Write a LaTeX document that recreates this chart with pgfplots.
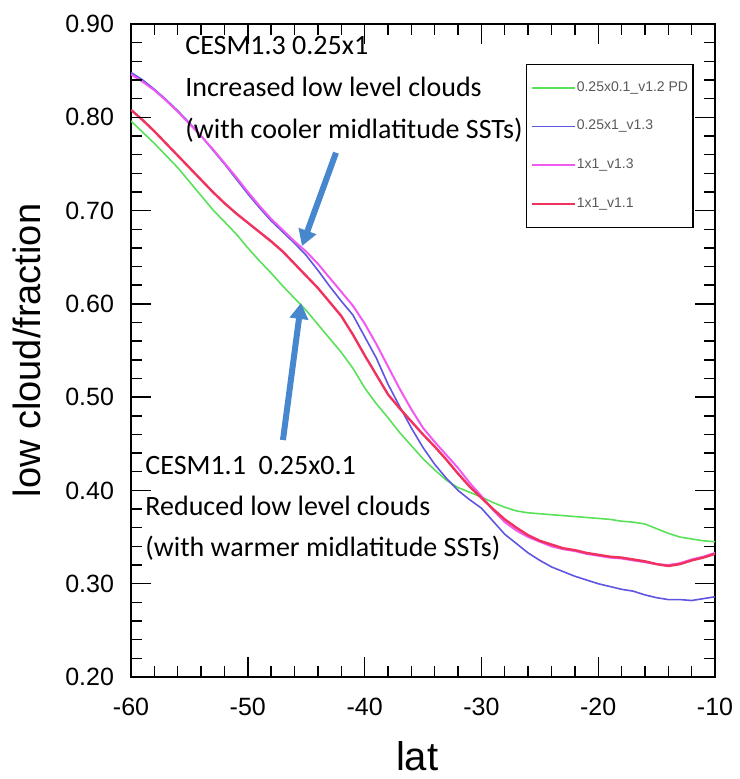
\documentclass[border=0pt]{standalone}
\usepackage{fontspec}
\setmainfont{Liberation Sans}
\newfontfamily\calibri{Carlito}
\usepackage{pgfplots}
\pgfplotsset{compat=1.18}
\usetikzlibrary{arrows.meta}
\definecolor{cgreen}{RGB}{90,225,90}
\definecolor{cblue}{RGB}{95,85,225}
\definecolor{cmag}{RGB}{240,90,240}
\definecolor{cred}{RGB}{240,50,95}
\definecolor{arrowblue}{RGB}{70,135,205}
\pgfplotsset{
 base/.style={scale only axis, width=292pt, height=326.5pt,
  xmin=-60, xmax=-10, ymin=0.2, ymax=0.9,
  xtick={-60,-50,-40,-30,-20,-10},
  ytick={0.2,0.3,0.4,0.5,0.6,0.7,0.8,0.9},
  minor x tick num=4, minor y tick num=4,
  tick align=inside, tick pos=both,
  major tick length=10pt, minor tick length=5.5pt,
  axis line style={line width=1pt},
  tick style={line width=0.7pt, black},
  /pgf/number format/assume math mode=true},
 tl/.style={ticklabel style={font=\fontsize{12.5}{15}\selectfont}},
 nf/.style={yticklabel style={xshift=-5pt, /pgf/number format/fixed, /pgf/number format/fixed zerofill, /pgf/number format/precision=2},
  xticklabel style={yshift=-7pt}},
 lab/.style={xlabel={lat}, ylabel={low cloud/fraction},
  xlabel style={font=\fontsize{20}{24}\selectfont, at={(axis description cs:0.49,0)}, anchor=center, yshift=-39.5pt},
  ylabel style={font=\fontsize{19}{23}\selectfont, at={(axis description cs:-0.178,0.5)}, anchor=center}},
 leg/.style={legend style={at={(rel axis cs:0.676,0.939)}, anchor=north west,
    font=\fontsize{7}{8}\selectfont, text=black!65, draw=black, line width=0.6pt,
    inner xsep=2pt, inner ysep=7.5pt, row sep=11pt, cells={anchor=west},
    nodes={inner xsep=0.5pt, inner ysep=1pt}},
  legend image code/.code={\draw[##1] (0pt,0pt) -- (21.5pt,0pt);}},
}
\begin{document}
\begin{tikzpicture}
\begin{axis}[base, tl, nf, lab, leg]
\addplot[cgreen, line width=0.8pt] coordinates {
(-60,0.796) (-59,0.784) (-58,0.772) (-57,0.759) (-56,0.746) (-55,0.731) (-54,0.716) (-53,0.701) (-52,0.688) (-51,0.675)
(-50,0.660) (-49,0.646) (-48,0.633) (-47,0.619) (-46,0.606) (-45,0.593) (-44,0.578) (-43,0.563) (-42,0.548) (-41,0.531)
(-40,0.510) (-39,0.493) (-38,0.478) (-37,0.462) (-36,0.448) (-35,0.434) (-34,0.422) (-33,0.411) (-32,0.403) (-31,0.398)
(-30,0.393) (-29,0.387) (-28,0.382) (-27,0.378) (-26,0.376) (-25,0.375) (-24,0.374) (-23,0.373) (-22,0.372) (-21,0.371)
(-20,0.370) (-19,0.369) (-18,0.367) (-17,0.366) (-16,0.364) (-15,0.359) (-14,0.354) (-13,0.350) (-12,0.348) (-11,0.346) (-10,0.345)};
\addlegendentry{0.25x0.1\_v1.2 PD}
\addplot[cblue, line width=0.8pt] coordinates {
(-60,0.848) (-59,0.840) (-58,0.830) (-57,0.819) (-56,0.807) (-55,0.794) (-54,0.780) (-53,0.765) (-52,0.750) (-51,0.734)
(-50,0.718) (-49,0.703) (-48,0.689) (-47,0.677) (-46,0.665) (-45,0.652) (-44,0.636) (-43,0.619) (-42,0.603) (-41,0.588)
(-40,0.565) (-39,0.542) (-38,0.514) (-37,0.490) (-36,0.467) (-35,0.446) (-34,0.428) (-33,0.413) (-32,0.400) (-31,0.390)
(-30,0.381) (-29,0.367) (-28,0.353) (-27,0.343) (-26,0.333) (-25,0.325) (-24,0.318) (-23,0.313) (-22,0.308) (-21,0.304)
(-20,0.300) (-19,0.297) (-18,0.294) (-17,0.292) (-16,0.288) (-15,0.285) (-14,0.283) (-13,0.283) (-12,0.282) (-11,0.284) (-10,0.286)};
\addlegendentry{0.25x1\_v1.3}
\addplot[cmag, line width=1pt] coordinates {
(-60,0.846) (-59,0.838) (-58,0.829) (-57,0.818) (-56,0.806) (-55,0.793) (-54,0.780) (-53,0.766) (-52,0.751) (-51,0.736)
(-50,0.720) (-49,0.705) (-48,0.691) (-47,0.679) (-46,0.667) (-45,0.656) (-44,0.643) (-43,0.628) (-42,0.613) (-41,0.598)
(-40,0.579) (-39,0.557) (-38,0.533) (-37,0.509) (-36,0.487) (-35,0.467) (-34,0.452) (-33,0.438) (-32,0.424) (-31,0.408)
(-30,0.394) (-29,0.379) (-28,0.366) (-27,0.357) (-26,0.350) (-25,0.345) (-24,0.340) (-23,0.337) (-22,0.335) (-21,0.332)
(-20,0.330) (-19,0.328) (-18,0.327) (-17,0.325) (-16,0.323) (-15,0.321) (-14,0.320) (-13,0.322) (-12,0.326) (-11,0.329) (-10,0.333)};
\addlegendentry{1x1\_v1.3}
\addplot[cred, line width=1.2pt] coordinates {
(-60,0.808) (-59,0.797) (-58,0.785) (-57,0.772) (-56,0.759) (-55,0.746) (-54,0.733) (-53,0.720) (-52,0.708) (-51,0.697)
(-50,0.687) (-49,0.677) (-48,0.667) (-47,0.656) (-46,0.643) (-45,0.630) (-44,0.617) (-43,0.602) (-42,0.587) (-41,0.567)
(-40,0.545) (-39,0.524) (-38,0.503) (-37,0.488) (-36,0.474) (-35,0.460) (-34,0.447) (-33,0.433) (-32,0.418) (-31,0.404)
(-30,0.392) (-29,0.380) (-28,0.369) (-27,0.360) (-26,0.352) (-25,0.346) (-24,0.342) (-23,0.338) (-22,0.336) (-21,0.333)
(-20,0.331) (-19,0.329) (-18,0.328) (-17,0.326) (-16,0.324) (-15,0.321) (-14,0.319) (-13,0.321) (-12,0.325) (-11,0.328) (-10,0.332)};
\addlegendentry{1x1\_v1.1}
\node[anchor=north west, align=left, inner sep=0pt, font=\calibri\fontsize{14}{21}\selectfont] at (axis cs:-55.38,0.887) {CESM1.3 0.25x1\\Increased low level clouds\\(with cooler midlatitude SSTs)};
\node[anchor=north west, align=left, inner sep=0pt, font=\calibri\fontsize{14}{20.5}\selectfont] at (axis cs:-58.8,0.437) {CESM1.1\ \ 0.25x0.1\\Reduced low level clouds\\(with warmer midlatitude SSTs)};
\draw[arrowblue, line width=3pt, -{Triangle[length=8pt,width=9pt]}] (axis cs:-42.45,0.762) -- (axis cs:-45.36,0.662);
\draw[arrowblue, line width=3pt, -{Triangle[length=8pt,width=9pt]}] (axis cs:-46.99,0.454) -- (axis cs:-45.44,0.601);
\coordinate (bl) at (rel axis cs:0,0);
\coordinate (tr) at (rel axis cs:1,1);
\coordinate (tl) at (rel axis cs:0,1);
\coordinate (br) at (rel axis cs:1,0);
\end{axis}
\foreach \i in {0,...,25} {
  \draw[black, line width=0.7pt] ([xshift=\i*11.68pt]bl) -- ++(0pt,5.5pt);
  \draw[black, line width=0.7pt] ([xshift=\i*11.68pt]tl) -- ++(0pt,-5.5pt);
}
\foreach \i in {0,5,...,25} {
  \draw[black, line width=0.7pt] ([xshift=\i*11.68pt]bl) -- ++(0pt,10pt);
  \draw[black, line width=0.7pt] ([xshift=\i*11.68pt]tl) -- ++(0pt,-10pt);
}
\foreach \j in {0,...,35} {
  \draw[black, line width=0.7pt] ([yshift=\j*9.32857pt]bl) -- ++(5.5pt,0pt);
  \draw[black, line width=0.7pt] ([yshift=\j*9.32857pt]br) -- ++(-5.5pt,0pt);
}
\foreach \j in {0,5,...,35} {
  \draw[black, line width=0.7pt] ([yshift=\j*9.32857pt]bl) -- ++(10pt,0pt);
  \draw[black, line width=0.7pt] ([yshift=\j*9.32857pt]br) -- ++(-10pt,0pt);
}
\path ([shift={(-65.5pt,-51pt)}]bl) rectangle ([shift={(11pt,12pt)}]tr);
\end{tikzpicture}
\end{document}
